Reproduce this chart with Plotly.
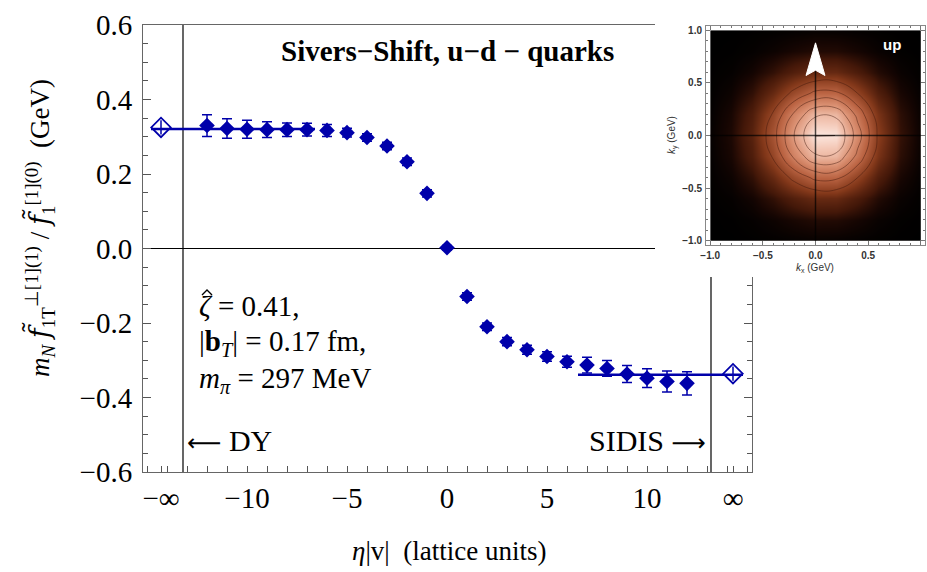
import plotly.graph_objects as go

# ---------------- data ----------------
eta = [-12, -11, -10, -9, -8, -7, -6, -5, -4, -3, -2, -1, 0,
       1, 2, 3, 4, 5, 6, 7, 8, 9, 10, 11, 12]
shift = [0.330, 0.322, 0.320, 0.319, 0.319, 0.319, 0.317, 0.311, 0.298, 0.275, 0.233, 0.148, 0.002,
         -0.129, -0.210, -0.250, -0.272, -0.290, -0.304, -0.313, -0.322, -0.337, -0.348, -0.357, -0.362]
shift_err = [0.029, 0.026, 0.024, 0.021, 0.018, 0.017, 0.016, 0.012, 0.010, 0.010, 0.010, 0.010, 0.006,
             0.010, 0.010, 0.011, 0.012, 0.013, 0.015, 0.021, 0.021, 0.023, 0.025, 0.028, 0.031]

inf_x = [-14.3, 14.3]
inf_y = [0.325, -0.336]
inf_err = [0.019, 0.019]

fit_dy_x = [-14.8, -6.6]
fit_dy_y = [0.321, 0.321]
fit_sidis_x = [6.55, 14.8]
fit_sidis_y = [-0.339, -0.339]

boundary_x = [-13.2, 13.2]

x_tickvals = [-14.3, -10, -5, 0, 5, 10, 14.3]
x_ticktext = ['−∞', '−10', '−5', '0', '5', '10', '∞']
y_tickvals = [-0.6, -0.4, -0.2, 0.0, 0.2, 0.4, 0.6]

# inset: Sivers-shifted density of up quarks (relative intensity)
kx = [-1.0, -0.8, -0.6, -0.4, -0.2, 0.0, 0.2, 0.4, 0.6, 0.8, 1.0]
ky = [-1.0, -0.8, -0.6, -0.4, -0.2, 0.0, 0.2, 0.4, 0.6, 0.8, 1.0]
density = [
    [0.000, 0.000, 0.002, 0.004, 0.007, 0.010, 0.009, 0.006, 0.003, 0.001, 0.000],
    [0.000, 0.002, 0.008, 0.020, 0.037, 0.051, 0.050, 0.033, 0.014, 0.004, 0.001],
    [0.002, 0.008, 0.029, 0.073, 0.135, 0.184, 0.181, 0.120, 0.052, 0.015, 0.003],
    [0.004, 0.021, 0.072, 0.183, 0.339, 0.462, 0.456, 0.300, 0.131, 0.037, 0.007],
    [0.007, 0.037, 0.126, 0.317, 0.588, 0.800, 0.790, 0.521, 0.226, 0.065, 0.012],
    [0.009, 0.044, 0.151, 0.381, 0.707, 0.962, 0.949, 0.626, 0.272, 0.078, 0.015],
    [0.007, 0.037, 0.126, 0.317, 0.588, 0.800, 0.790, 0.521, 0.226, 0.065, 0.012],
    [0.004, 0.021, 0.072, 0.183, 0.339, 0.462, 0.456, 0.300, 0.131, 0.037, 0.007],
    [0.002, 0.008, 0.029, 0.073, 0.135, 0.184, 0.181, 0.120, 0.052, 0.015, 0.003],
    [0.000, 0.002, 0.008, 0.020, 0.037, 0.051, 0.050, 0.033, 0.014, 0.004, 0.001],
    [0.000, 0.000, 0.002, 0.004, 0.007, 0.010, 0.009, 0.006, 0.003, 0.001, 0.000],
]

# ---------------- styling ----------------
W, H = 927, 572
BLUE = '#0000aa'
SERIF = 'Liberation Serif'
SANS = 'Liberation Sans'


def px_x(p):
    return p / W


def px_y(p):
    return 1 - p / H


fig = go.Figure()

# fit lines
for fx, fy in ((fit_dy_x, fit_dy_y), (fit_sidis_x, fit_sidis_y)):
    fig.add_trace(go.Scatter(x=fx, y=fy, mode='lines', line=dict(color=BLUE, width=2.5),
                             showlegend=False, hoverinfo='skip'))

# lattice points
fig.add_trace(go.Scatter(
    x=eta, y=shift, mode='markers',
    marker=dict(symbol='diamond', size=12, color=BLUE),
    error_y=dict(type='data', array=shift_err, color=BLUE, thickness=1.5, width=5),
    showlegend=False))

# extrapolated points at +-infinity
fig.add_trace(go.Scatter(
    x=inf_x, y=inf_y, mode='markers',
    marker=dict(symbol='diamond-open', size=15, color=BLUE, line=dict(width=1.8, color=BLUE)),
    error_y=dict(type='data', array=inf_err, color=BLUE, thickness=1.5, width=0),
    showlegend=False))

# white cover behind the inset (separate overlapping subplot)
fig.add_trace(go.Scatter(x=[None], y=[None], xaxis='x2', yaxis='y2', showlegend=False, hoverinfo='skip'))

# inset density
fig.add_trace(go.Contour(
    x=kx, y=ky, z=density, xaxis='x3', yaxis='y3',
    zmin=0, zmax=1, zauto=False,
    colorscale=[[0, '#000000'], [0.03, '#140502'], [0.1, '#441809'], [0.25, '#83381a'],
                [0.45, '#bb6443'], [0.65, '#dc9274'], [0.85, '#f3c6b4'], [1, '#fff3ee']],
    contours=dict(coloring='heatmap', start=0.3, end=0.95, size=0.13),
    line=dict(color='rgba(60,20,8,0.45)', width=1, smoothing=1.3),
    showscale=False, hoverinfo='skip'))

axis_font = dict(family=SERIF, size=29, color='black')
inset_tick_font = dict(family=SANS, size=10, color='#333', weight='bold')

fig.update_layout(
    template='none',
    width=W, height=H, margin=dict(l=0, r=0, t=0, b=0, autoexpand=False),
    paper_bgcolor='white', plot_bgcolor='white', showlegend=False,
    xaxis=dict(domain=[px_x(143), px_x(752)], range=[-15.2, 15.25], anchor='y', automargin=False,
               tickvals=x_tickvals, ticktext=x_ticktext, tickfont=axis_font,
               ticks='inside', ticklen=6, tickcolor='#555', tickwidth=1,
               minor=dict(tickvals=list(range(-15, 16)), ticks='inside', ticklen=6, tickcolor='#555'),
               showline=True, linecolor='#666', linewidth=1, mirror=True,
               showgrid=False, zeroline=False, ticklabelstandoff=0),
    yaxis=dict(domain=[px_y(472), px_y(25)], range=[-0.6, 0.6], anchor='x', automargin=False,
               tickvals=y_tickvals, tickformat='.1f', tickfont=axis_font,
               ticks='inside', ticklen=8, tickcolor='#555', tickwidth=1,
               minor=dict(dtick=0.05, ticks='inside', ticklen=5, tickcolor='#555'),
               showline=True, linecolor='#666', linewidth=1, mirror='ticks',
               showgrid=False, zeroline=True, zerolinecolor='black', zerolinewidth=1,
               ticklabelstandoff=4),
    xaxis2=dict(domain=[px_x(655), 1], anchor='y2', visible=False, range=[0, 1], automargin=False),
    yaxis2=dict(domain=[px_y(277), 1], anchor='x2', visible=False, range=[0, 1], automargin=False),
    xaxis3=dict(domain=[px_x(706), px_x(925)], range=[-1.04, 1.04], anchor='y3', automargin=False,
                tickvals=[-1, -0.5, 0, 0.5, 1], tickformat='.1f', tickfont=inset_tick_font,
                ticks='inside', ticklen=4, tickcolor='#777',
                minor=dict(dtick=0.1, ticks='inside', ticklen=2, tickcolor='#777'),
                showline=True, linecolor='#888', mirror='ticks', showgrid=False, zeroline=False,
                ticklabelstandoff=1),
    yaxis3=dict(domain=[px_y(245), px_y(26)], range=[-1.04, 1.04], anchor='x3', automargin=False,
                tickvals=[-1, -0.5, 0, 0.5, 1], tickformat='.1f', tickfont=inset_tick_font,
                ticks='inside', ticklen=4, tickcolor='#777',
                minor=dict(dtick=0.1, ticks='inside', ticklen=2, tickcolor='#777'),
                showline=True, linecolor='#888', mirror='ticks', showgrid=False, zeroline=False,
                ticklabelstandoff=1),
)

# DY / SIDIS boundaries (drawn below the cover)
for bx in boundary_x:
    fig.add_shape(type='line', xref='x', yref='y', x0=bx, x1=bx, y0=-0.6, y1=0.6,
                  line=dict(color='black', width=1.2), layer='below')

# inset decorations
fig.add_shape(type='line', xref='x3', yref='y3', x0=-1, x1=1, y0=0, y1=0,
              line=dict(color='rgba(0,0,0,0.7)', width=1.5), layer='above')
fig.add_shape(type='line', xref='x3', yref='y3', x0=0, x1=0, y0=-1, y1=0.62,
              line=dict(color='rgba(0,0,0,0.7)', width=1.5), layer='above')
fig.add_shape(type='path', xref='x3', yref='y3',
              path='M -0.09,0.57 L 0,0.88 L 0.09,0.57 L 0,0.62 Z',
              fillcolor='white', line=dict(color='white', width=1), layer='above')

# hat accent over zeta (drawn as a small stroke)
fig.add_shape(type='path', xref='paper', yref='paper',
              path=f'M {px_x(202)},{px_y(295)} L {px_x(207)},{px_y(290)} L {px_x(212)},{px_y(295)}',
              line=dict(color='black', width=1.4), layer='above')


def paper_text(text, x, y, size, family=SERIF, xanchor='center', angle=0, color='black'):
    return dict(text=text, x=px_x(x), y=px_y(y), xref='paper', yref='paper',
                xanchor=xanchor, yanchor='middle', textangle=angle, showarrow=False,
                font=dict(family=family, size=size, color=color))


ann = []
# axis titles
ann.append(paper_text('<i>m</i><sub><i>N</i></sub> <span style="font-family:DejaVu Serif"><i>f̃</i></span>'
                      '<sub>1T</sub><sup>⊥[1](1)</sup> / '
                      '<span style="font-family:DejaVu Serif"><i>f̃</i></span><sub>1</sub>'
                      '<sup>[1](0)</sup>  (GeV)', 40, 228, 27, angle=-90))
ann.append(paper_text('<i>η</i>|v|  (lattice units)', 449, 551, 27))
ann.append(paper_text('<b>Sivers−Shift, u−d − quarks</b>', 447, 51, 29))
# parameters
ann.append(paper_text('<i>ζ</i> = 0.41,', 197, 306, 29, xanchor='left'))
ann.append(paper_text('|<b>b</b><sub><i>T</i></sub>| = 0.17 fm,', 197, 343, 29, xanchor='left'))
ann.append(paper_text('<i>m</i><sub><i>π</i></sub> = 297 MeV', 197, 380, 29, xanchor='left'))
ann.append(paper_text('<span style="font-family:DejaVu Sans;font-size:24px">⟵</span> DY',
                      185, 440, 30, xanchor='left'))
ann.append(paper_text('SIDIS <span style="font-family:DejaVu Sans;font-size:24px">⟶</span>',
                      708, 440, 30, xanchor='right'))
# inset labels
ann.append(paper_text('<i>k</i><sub>x</sub> (GeV)', 815, 268, 10, family=SANS, color='#333'))
ann.append(paper_text('<i>k</i><sub>y</sub> (GeV)', 672, 135, 10, family=SANS, angle=-90, color='#333'))
ann.append(dict(text='<b>up</b>', x=0.73, y=0.86, xref='x3', yref='y3', showarrow=False,
                font=dict(family=SANS, size=15, color='white')))
fig.update_layout(annotations=ann)

fig.write_html('out.html')
